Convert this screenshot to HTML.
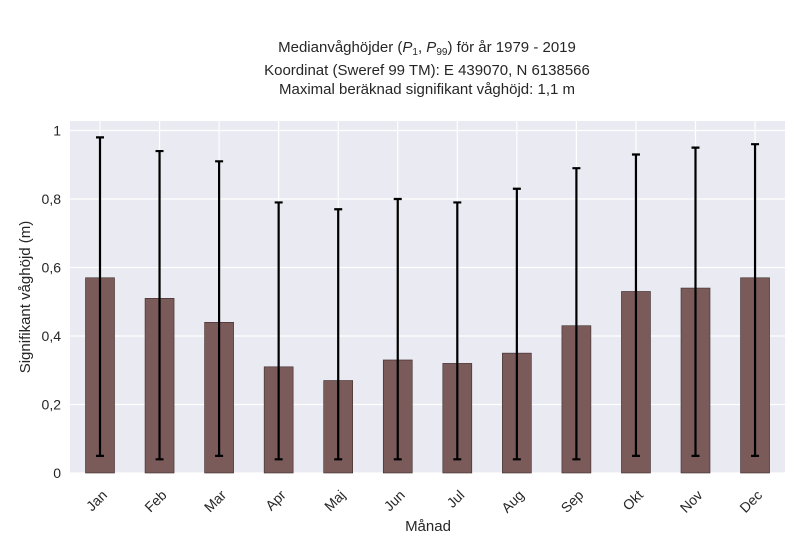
<!DOCTYPE html>
<html><head><meta charset="utf-8"><style>
body{margin:0;background:#fff;}
svg text{font-family:"Liberation Sans",sans-serif;fill:#262626;}
</style></head><body>
<svg id="c" width="800" height="550">
<text x="427" y="52" text-anchor="middle" font-size="15">Medianvåghöjder (<tspan font-style="italic">P</tspan><tspan font-size="10" dy="3">1</tspan><tspan dy="-3">, </tspan><tspan font-style="italic">P</tspan><tspan font-size="10" dy="3">99</tspan><tspan dy="-3">) för år 1979 - 2019</tspan></text>
<text x="427" y="75" text-anchor="middle" font-size="15">Koordinat (Sweref 99 TM): E 439070, N 6138566</text>
<text x="427" y="94" text-anchor="middle" font-size="15">Maximal beräknad signifikant våghöjd: 1,1 m</text>
<rect x="70" y="121" width="715" height="352" fill="#eaeaf2"/>
<g id="grid"></g><g id="bars"></g><g id="axes"></g>
<text x="428" y="531" text-anchor="middle" font-size="15">Månad</text>
<text transform="translate(30,297) rotate(-90)" text-anchor="middle" font-size="15">Signifikant våghöjd (m)</text>
</svg>
<script>
const categories=["Jan","Feb","Mar","Apr","Maj","Jun","Jul","Aug","Sep","Okt","Nov","Dec"];
const medians=[0.57,0.51,0.44,0.31,0.27,0.33,0.32,0.35,0.43,0.53,0.54,0.57];
const upper=[0.98,0.94,0.91,0.79,0.77,0.80,0.79,0.83,0.89,0.93,0.95,0.96];
const lower=[0.05,0.04,0.05,0.04,0.04,0.04,0.04,0.04,0.04,0.05,0.05,0.05];
const yTicks=[0,0.2,0.4,0.6,0.8,1];
const yTickLabels=["0","0,2","0,4","0,6","0,8","1"];
const NS="http://www.w3.org/2000/svg";
const x=i=>100+i*59.55;
const y=v=>473-v*342.5;
function mk(t,a,p){const e=document.createElementNS(NS,t);for(const k in a)e.setAttribute(k,a[k]);p.appendChild(e);return e;}
const G=document.getElementById('grid'),B=document.getElementById('bars'),A=document.getElementById('axes');
yTicks.forEach((v,i)=>{
 const l=mk('line',{x1:70,x2:785,y1:y(v),y2:y(v),stroke:'#fff','stroke-width':1.2},G);
 
 
 const t=mk('text',{x:61,y:y(v)+5,'text-anchor':'end','font-size':14},A);
 t.textContent=yTickLabels[i];
 
 
});
categories.forEach((c,i)=>{
 const cx=x(i);
 const g=mk('line',{x1:cx,x2:cx,y1:121,y2:473,stroke:'#fff','stroke-width':1.2},G);
 
 
 const r=mk('rect',{x:cx-14.5,y:y(medians[i]),width:29,height:y(0)-y(medians[i]),fill:'#7b5a5a',stroke:'#3a2a2a','stroke-width':0.6},B);
 
 
 const e=mk('path',{d:`M${cx},${y(lower[i])}V${y(upper[i])}M${cx-4},${y(upper[i])}H${cx+4}M${cx-4},${y(lower[i])}H${cx+4}`,stroke:'#000','stroke-width':2.2,fill:'none'},B);
 
 
 const t=mk('text',{'text-anchor':'end','font-size':14,transform:`translate(${cx+8},${496}) rotate(-45)`},A);
 t.textContent=c;
 
 
});
</script>
</body></html>
